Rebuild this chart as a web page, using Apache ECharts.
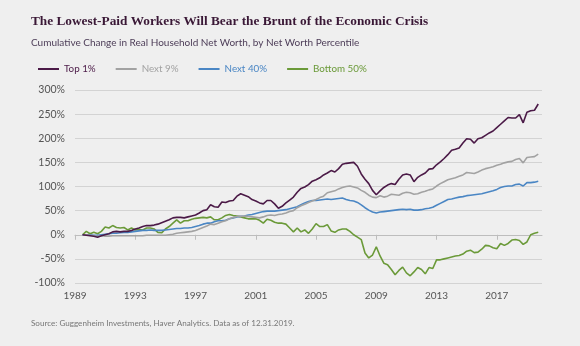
<!DOCTYPE html>
<html>
<head>
<meta charset="utf-8">
<script src="https://cdn.jsdelivr.net/npm/echarts@6/dist/echarts.min.js"></script>
<style>
html,body{margin:0;padding:0;background:#efefef;}
#chart{width:580px;height:346px;}
</style>
</head>
<body>
<div id="chart"></div>
<script>
// ---- Data (quarterly, 1989 Q3 .. 2019 Q4), cumulative % change ----
var firstQuarterYear = 1989, firstQuarter = 3;
var seriesNames = ['Top 1%', 'Next 9%', 'Next 40%', 'Bottom 50%'];
var top1 = [
  0,-1,
  -2,-3,-5,-2,
  0,2,6,7,
  6,7,7,9,
  12,14,17,19,
  19,20,22,25,
  28,31,35,36,
  36,35,37,39,
  41,45,50,52,
  62,58,57,68,
  67,70,71,80,
  85,82,79,73,
  70,66,64,71,
  71,64,55,59,
  66,72,78,88,
  96,99,104,111,
  114,118,124,128,
  133,130,137,146,
  148,149,150,142,
  126,115,106,92,
  83,91,98,103,
  106,104,115,124,
  126,124,110,119,
  124,128,136,137,
  145,151,158,166,
  175,177,180,190,
  199,198,190,199,
  201,206,211,215,
  222,229,236,243,
  242,242,249,232,
  254,257,258,271
];
var next9 = [
  0,0,
  -1,-2,-3,-2,
  -3,-3,-2,-2,
  -2,-2,-2,-2,
  -2,-2,-2,-1,
  -1,-1,-1,-1,
  -1,0,1,3,
  4,5,6,7,
  9,12,15,18,
  22,21,24,27,
  29,33,36,38,
  38,39,38,37,
  36,35,37,40,
  41,40,42,43,
  45,48,50,56,
  60,63,67,70,
  73,77,80,87,
  89,91,95,98,
  100,101,99,97,
  92,88,82,78,
  77,81,78,80,
  84,83,82,86,
  88,87,84,85,
  88,90,93,95,
  101,106,110,114,
  116,118,121,124,
  129,128,127,130,
  134,137,139,141,
  144,146,149,151,
  152,156,158,149,
  160,161,162,167
];
var next40 = [
  0,0,
  0,-1,-1,0,
  1,2,3,3,
  4,5,5,6,
  7,8,9,9,
  10,9,9,9,
  10,11,12,13,
  13,14,14,15,
  17,19,22,24,
  24,27,29,29,
  30,33,35,37,
  38,39,41,42,
  44,46,48,49,
  49,49,50,51,
  52,54,56,58,
  62,66,69,71,
  71,72,73,74,
  73,74,75,76,
  73,71,70,67,
  62,56,51,47,
  45,47,48,49,
  50,51,52,53,
  52,53,51,51,
  52,54,55,57,
  61,65,69,73,
  74,76,78,79,
  81,82,83,84,
  85,87,89,91,
  94,98,100,101,
  101,104,105,101,
  108,108,109,111
];
var bottom50 = [
  0,7,
  2,5,2,7,
  16,14,19,15,
  14,15,10,14,
  10,11,10,14,
  14,12,5,4,
  12,17,24,31,
  24,29,29,32,
  34,35,36,35,
  37,31,31,35,
  40,42,40,39,
  37,35,33,33,
  33,30,24,32,
  30,26,24,24,
  22,14,6,14,
  6,10,3,12,
  23,17,17,21,
  8,5,10,12,
  12,7,0,-5,
  -10,-38,-48,-42,
  -25,-44,-59,-62,
  -72,-83,-74,-67,
  -79,-85,-77,-68,
  -72,-81,-68,-70,
  -52,-52,-50,-48,
  -46,-44,-43,-40,
  -34,-32,-37,-36,
  -30,-22,-23,-27,
  -29,-18,-22,-18,
  -11,-10,-12,-20,
  -15,0,3,5
];
var yearTicks = [1989, 1993, 1997, 2001, 2005, 2009, 2013, 2017];
var titleText = 'The Lowest-Paid Workers Will Bear the Brunt of the Economic Crisis';
var subtitleText = 'Cumulative Change in Real Household Net Worth, by Net Worth Percentile';
var sourceText = 'Source: Guggenheim Investments, Haver Analytics. Data as of 12.31.2019.';

// ---- Build ----
var colors = ['#4b1a47', '#a2a2a2', '#4a86c4', '#6b9a39'];
var allValues = [top1, next9, next40, bottom50];
function toPoints(vals) {
  return vals.map(function (v, i) {
    var q = firstQuarter - 1 + i; // quarters since Jan of first year
    return [firstQuarterYear + Math.floor(q / 4) + (q % 4) / 4, v];
  });
}
var sans = 'Lato';
var chart = echarts.init(document.getElementById('chart'), null, {renderer: 'canvas'});
chart.setOption({
  backgroundColor: '#efefef',
  animation: false,
  title: [
    {text: titleText, left: 31, top: 15, padding: 0,
     textStyle: {fontFamily: 'Liberation Serif', fontWeight: 'bold', fontSize: 13.3, color: '#3a1836'}},
    {text: subtitleText, left: 31, top: 38, padding: 0,
     textStyle: {fontFamily: sans, fontWeight: 'normal', fontSize: 10, color: '#4d3d58'}},
    {text: sourceText, left: 31, top: 319, padding: 0,
     textStyle: {fontFamily: sans, fontWeight: 'normal', fontSize: 8.1, color: '#777777'}}
  ],
  legend: {
    left: 38, top: 64, padding: 0,
    icon: 'rect', itemWidth: 21, itemHeight: 2, itemGap: 20,
    textStyle: {fontFamily: sans, fontSize: 9.8},
    data: seriesNames.map(function (n, i) { return {name: n, textStyle: {color: colors[i]}}; })
  },
  grid: {left: 75, right: 38, top: 90, bottom: 63},
  xAxis: [
    {type: 'value', min: 1989, max: 2020, position: 'bottom',
     axisLine: {show: false, onZero: false}, axisTick: {show: false}, splitLine: {show: false},
     axisLabel: {customValues: yearTicks, margin: 8, color: '#555555', fontFamily: sans, fontSize: 10,
                 formatter: function (v) { return String(v); }}},
    {type: 'value', min: 1989, max: 2020, position: 'bottom',
     axisLine: {show: true, onZero: true, lineStyle: {color: '#bdbdbd', width: 1}},
     axisTick: {show: true, customValues: yearTicks, length: 5, lineStyle: {color: '#bdbdbd'}},
     axisLabel: {show: false}, splitLine: {show: false}}
  ],
  yAxis: {
    type: 'value', min: -100, max: 300, interval: 50,
    axisLine: {show: false}, axisTick: {show: false},
    splitLine: {lineStyle: {color: '#d3d3d3', width: 1}},
    axisLabel: {formatter: '{value}%', margin: 10, color: '#555555', fontFamily: sans, fontSize: 10.5}
  },
  series: seriesNames.map(function (n, i) {
    return {
      name: n, type: 'line', xAxisIndex: 0, showSymbol: false, symbol: 'none',
      data: toPoints(allValues[i]),
      itemStyle: {color: colors[i]},
      lineStyle: {color: colors[i], width: 1.6},
      z: 10 - i
    };
  })
});
</script>
</body>
</html>
